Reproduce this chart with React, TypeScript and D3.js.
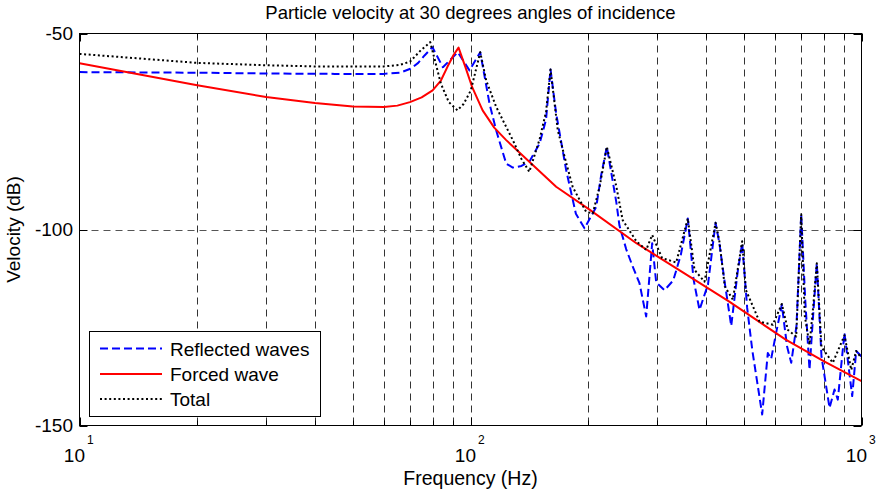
import React from "react";
import * as d3 from "d3";

const titleText = "Particle velocity at 30 degrees angles of incidence";
const xLabel = "Frequency (Hz)";
const yLabel = "Velocity (dB)";
const yTicks = [-50, -100, -150];
const xMajor = [10, 100, 1000];
const xMinor = [20, 30, 40, 50, 60, 70, 80, 90, 200, 300, 400, 500, 600, 700, 800, 900];
const legendNames = ["Reflected waves", "Forced wave", "Total"];

const reflectedF = [10, 20, 30, 45, 60, 66, 70.2, 73.5, 76.3, 79.9, 85.0, 92.8, 99.4, 105.9, 111.8, 116.3, 123.4, 128.3, 135, 141.4, 150.2, 156, 160.2, 165.6, 175.7, 186, 195.7, 209.7, 216, 223.2, 230, 236, 240.4, 250.1, 260, 270.5, 281.4, 291.5, 298.5, 313.4, 330, 345, 359.6, 372, 385.2, 405, 423.4, 433, 447, 464.3, 482, 495.3, 510, 526, 557.2, 575.9, 587.5, 605, 625.5, 645, 661.1, 682, 701.1, 718, 736.2, 752, 768.6, 790, 828.4, 853.1, 869.8, 904.6, 946.7, 969.2, 1000];
const reflectedDb = [-59.85, -60.0, -60.2, -60.3, -60.3, -60.0, -59.0, -57.5, -55.6, -53.5, -58.6, -54.8, -59.4, -54.8, -67.8, -74.7, -83.2, -84.2, -83.8, -82.7, -78.1, -72, -59.2, -70.4, -84.9, -96, -99.7, -94.2, -86, -78.9, -86.5, -93, -99, -105, -109.5, -113.7, -122.2, -103.5, -113.5, -115.5, -113, -106.5, -97.2, -112.8, -120.5, -114, -98.3, -103.5, -113.6, -124.6, -111, -103.5, -120, -131, -147.2, -131.5, -133, -126.3, -119.2, -129.8, -134.0, -124.5, -96.1, -118, -135.8, -122, -108.6, -132.4, -145.5, -140.8, -143.4, -126.4, -142.5, -131, -132.4];

const forcedF = [10, 20, 30, 40, 50, 60, 65, 70, 75, 80, 84, 87.3, 90.5, 93.2, 97, 101, 107.4, 115, 123.4, 141.4, 165.6, 202, 265.6, 350, 459, 640, 800, 1000];
const forcedDb = [-57.6, -63.2, -66.2, -67.7, -68.6, -68.75, -68.4, -67.5, -66.3, -64.5, -62, -58.5, -55.5, -53.6, -58.5, -63.7, -69.6, -74, -77.2, -82.7, -89.1, -95.0, -103.5, -111.0, -118.4, -128.1, -133.6, -138.7];

const totalF = [10, 20, 30, 40, 60, 66, 70, 74.6, 78.9, 84.0, 88, 92.6, 96, 100.2, 105.9, 109.7, 116.3, 128.3, 135, 141.4, 150.2, 156, 160.2, 167.2, 175.7, 182.6, 197.6, 205.5, 214, 223.2, 236, 245, 265.6, 281.4, 291.5, 309, 335.8, 359.6, 374, 396.7, 423.4, 433, 447, 468.8, 495.3, 506, 548.4, 593.1, 625.5, 648, 680.8, 701.1, 716, 736.2, 752, 768.6, 790, 844.5, 904.6, 941.3, 969.2, 1000];
const totalDb = [-55.2, -57.5, -58.1, -58.4, -58.4, -58.0, -57.2, -54.3, -52.2, -62.8, -67.5, -69.6, -68, -64.5, -54.8, -62, -68.7, -77.2, -82, -85.3, -77, -70, -59.2, -74.7, -83, -89.2, -95.5, -95.9, -89, -78.9, -89, -97.6, -103.0, -105.2, -101.4, -107.3, -108.4, -97.2, -110.3, -113.3, -98.3, -103, -114.5, -117.9, -103.0, -115.4, -123.5, -124.3, -119, -125.6, -127.3, -96.1, -122, -129.4, -120, -108.6, -130, -134, -127, -135.8, -131, -132.8];

const W = 882;
const H = 490;
const L = 79.5, R = 861.5, T = 33.5, B = 425.5;
const FONT = "'Liberation Sans', Arial, Helvetica, sans-serif";

export default function App() {
  const x = d3.scaleLog().domain([10, 1000]).range([L, R]);
  const y = d3.scaleLinear().domain([-150, -50]).range([B, T]);
  const mk = (fs: number[], vs: number[]) =>
    d3.line<number>().x((_, i) => x(fs[i])).y((_, i) => y(vs[i])).curve(d3.curveLinear)(vs.map((v) => v)) || "";

  const series = [
    { d: mk(reflectedF, reflectedDb), color: "#0000ff", dash: "8,4", w: 2 },
    { d: mk(forcedF, forcedDb), color: "#ff0000", dash: "", w: 2 },
    { d: mk(totalF, totalDb), color: "#000000", dash: "2,2.6", w: 2 },
  ];

  const legX = 89.5, legY = 331.5, legW = 231, legH = 85;
  const rowY = [348.5, 374, 399];

  return (
    <svg width={W} height={H} style={{ position: "absolute", left: 0, top: 0, background: "#fff" }} fontFamily={FONT}>
      <rect x={0} y={0} width={W} height={H} fill="#fff" />
      <defs>
        <clipPath id="plotclip">
          <rect x={L} y={T} width={R - L} height={B - T} />
        </clipPath>
      </defs>
      {xMinor.concat([100]).map((f) => (
        <line key={"g" + f} x1={Math.round(x(f)) + 0.5} x2={Math.round(x(f)) + 0.5} y1={T} y2={B} stroke="#333" strokeWidth={1} strokeDasharray="7,5" />
      ))}
      <line x1={L} x2={R} y1={Math.round(y(-100)) + 0.5} y2={Math.round(y(-100)) + 0.5} stroke="#555" strokeWidth={1} strokeDasharray="7,5" />
      {xMinor.map((f) => (
        <g key={"t" + f}>
          <line x1={Math.round(x(f)) + 0.5} x2={Math.round(x(f)) + 0.5} y1={B} y2={B - 5} stroke="#000" />
          <line x1={Math.round(x(f)) + 0.5} x2={Math.round(x(f)) + 0.5} y1={T} y2={T + 5} stroke="#000" />
        </g>
      ))}
      {xMajor.map((f) => (
        <g key={"M" + f}>
          <line x1={Math.round(x(f)) + 0.5} x2={Math.round(x(f)) + 0.5} y1={B} y2={B - 8} stroke="#000" />
          <line x1={Math.round(x(f)) + 0.5} x2={Math.round(x(f)) + 0.5} y1={T} y2={T + 8} stroke="#000" />
        </g>
      ))}
      {yTicks.map((v) => (
        <g key={"y" + v}>
          <line x1={L} x2={L + 8} y1={Math.round(y(v)) + 0.5} y2={Math.round(y(v)) + 0.5} stroke="#000" />
          <line x1={R} x2={R - 8} y1={Math.round(y(v)) + 0.5} y2={Math.round(y(v)) + 0.5} stroke="#000" />
          <text x={73} y={y(v) + 6.5} textAnchor="end" fontSize={19} fill="#000">{v}</text>
        </g>
      ))}
      {xMajor.map((f) => (
        <g key={"xl" + f}>
          <text x={x(f) + 5.5} y={462} textAnchor="end" fontSize={19} fill="#000">10</text>
          <text x={x(f) + 7.5} y={444} textAnchor="start" fontSize={12} fill="#000">{Math.round(Math.log10(f))}</text>
        </g>
      ))}
      <g clipPath="url(#plotclip)">
        {series.map((s, i) => (
          <path key={i} d={s.d} fill="none" stroke={s.color} strokeWidth={s.w} strokeDasharray={s.dash || undefined} strokeLinejoin="round" />
        ))}
      </g>
      <rect x={L} y={T} width={R - L} height={B - T} fill="none" stroke="#000" strokeWidth={1} />
      <rect x={legX} y={legY} width={legW} height={legH} fill="#fff" stroke="#000" strokeWidth={1} />
      {series.map((s, i) => (
        <g key={"lg" + i}>
          <line x1={100} x2={162} y1={rowY[i]} y2={rowY[i]} stroke={s.color} strokeWidth={s.w} strokeDasharray={s.dash || undefined} />
          <text x={170} y={rowY[i] + 7} fontSize={19} fill="#000">{legendNames[i]}</text>
        </g>
      ))}
      <text x={(L + R) / 2} y={19} textAnchor="middle" fontSize={18.5} fill="#000">{titleText}</text>
      <text x={(L + R) / 2} y={485} textAnchor="middle" fontSize={19.5} fill="#000">{xLabel}</text>
      <text transform={`translate(20,${(T + B) / 2}) rotate(-90)`} textAnchor="middle" fontSize={19} fill="#000">{yLabel}</text>
    </svg>
  );
}
